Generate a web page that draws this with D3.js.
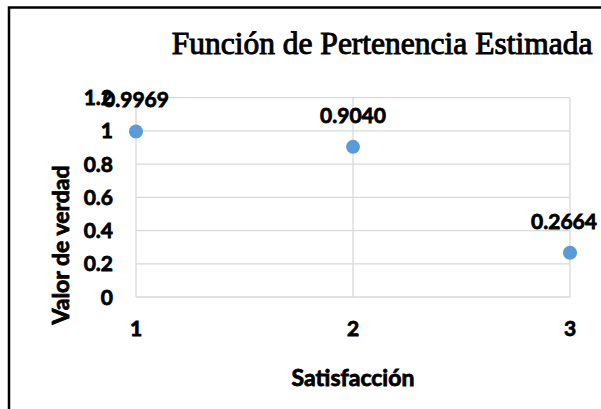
<!DOCTYPE html>
<html>
<head>
<meta charset="utf-8">
<script src="https://cdn.jsdelivr.net/npm/d3@7"></script>
<style>
  body { margin: 0; background: #ffffff; }
  svg { display: block; }
</style>
</head>
<body>
<svg></svg>
<script>
// data
var categories = [1, 2, 3]
var values = [0.9969, 0.9040, 0.2664]
var labels = ['0.9969', '0.9040', '0.2664']
var yTicks = [0, 0.2, 0.4, 0.6, 0.8, 1, 1.2]
var yTickLabels = ['0', '0.2', '0.4', '0.6', '0.8', '1', '1.2']

var svgWidth = 601, svgHeight = 409
var svg = d3.select('svg')
    .attr('width', svgWidth)
    .attr('height', svgHeight)

// outer frame (runs off right and bottom)
svg.append('rect')
    .attr('x', 9).attr('y', 7.5)
    .attr('width', 700).attr('height', 500)
    .attr('fill', 'none')
    .attr('stroke', '#000')
    .attr('stroke-width', 2.5)

var xScale = d3.scaleLinear().domain([1, 3]).range([136, 570])
var yScale = d3.scaleLinear().domain([0, 1.2]).range([297, 97.7])

var font = 'Lato, "Open Sans", sans-serif'
var grid = '#d9d9d9'

// bold text helper, a bit of stroke to thicken it
function boldText(sel, size) {
  return sel.style('font-family', font)
    .style('font-weight', 'bold')
    .style('font-size', size + 'px')
    .attr('fill', '#000')
    .attr('stroke', '#000')
    .attr('stroke-width', 0.8)
}

// horizontal gridlines
svg.append('g').selectAll('line')
    .data(yTicks)
    .enter().append('line')
    .attr('x1', xScale(1)).attr('x2', xScale(3))
    .attr('y1', function(d) { return yScale(d) })
    .attr('y2', function(d) { return yScale(d) })
    .attr('stroke', grid).attr('stroke-width', 1.3)

// vertical gridlines
svg.append('g').selectAll('line')
    .data(categories)
    .enter().append('line')
    .attr('x1', function(d) { return xScale(d) })
    .attr('x2', function(d) { return xScale(d) })
    .attr('y1', yScale(1.2)).attr('y2', yScale(0))
    .attr('stroke', grid).attr('stroke-width', 1.3)

// y tick labels
boldText(svg.append('g').selectAll('text')
    .data(yTicks)
    .enter().append('text')
    .attr('x', 113)
    .attr('y', function(d) { return yScale(d) })
    .attr('dy', '0.36em')
    .attr('text-anchor', 'end')
    .text(function(d, i) { return yTickLabels[i] }), 21)

// x tick labels
boldText(svg.append('g').selectAll('text')
    .data(categories)
    .enter().append('text')
    .attr('x', function(d) { return xScale(d) })
    .attr('y', 336)
    .attr('text-anchor', 'middle')
    .text(function(d) { return d }), 21)

// points
svg.append('g').selectAll('circle')
    .data(values)
    .enter().append('circle')
    .attr('cx', function(d, i) { return xScale(categories[i]) })
    .attr('cy', function(d) { return yScale(d) })
    .attr('r', 7)
    .attr('fill', '#5b9bd5')

// data labels (last one pushed left to stay inside)
boldText(svg.append('g').selectAll('text')
    .data(values)
    .enter().append('text')
    .attr('x', function(d, i) { return Math.min(xScale(categories[i]), 564) })
    .attr('y', function(d) { return yScale(d) - 24 })
    .attr('text-anchor', 'middle')
    .text(function(d, i) { return labels[i] }), 21)

// title
svg.append('text')
    .attr('x', 382).attr('y', 54)
    .attr('text-anchor', 'middle')
    .style('font-family', '"Liberation Serif", "Times New Roman", serif')
    .style('font-size', '31.5px')
    .attr('stroke', '#000').attr('stroke-width', 1)
    .text('Función de Pertenencia Estimada')

// axis titles
boldText(svg.append('text')
    .attr('x', 353).attr('y', 386)
    .attr('text-anchor', 'middle')
    .text('Satisfacción'), 23)

boldText(svg.append('text')
    .attr('transform', 'translate(69,245) rotate(-90)')
    .attr('text-anchor', 'middle')
    .text('Valor de verdad'), 23)
</script>
</body>
</html>
